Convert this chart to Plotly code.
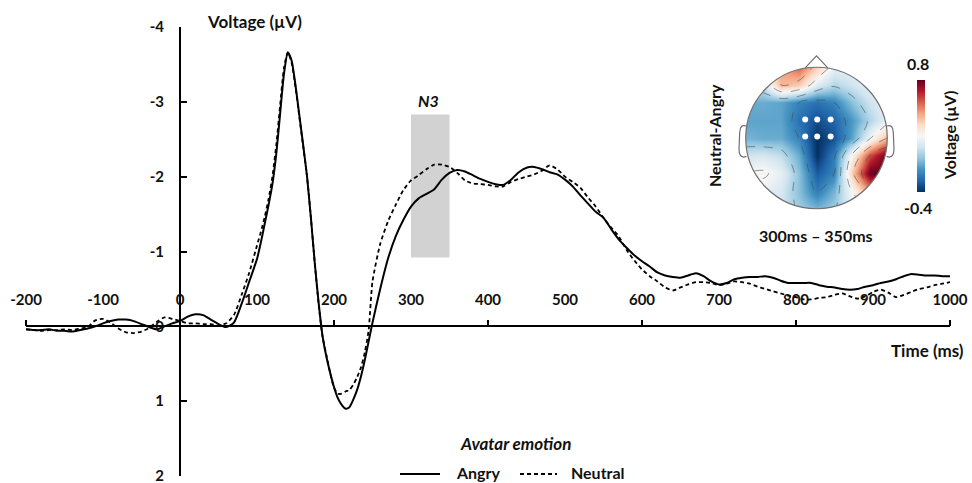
import numpy as np
import plotly.graph_objects as go

# ---------------- ERP waveforms (µV, negative up) ----------------
time_ms = list(range(-200, 100, 10)) + list(range(100, 250, 5)) + list(range(250, 1001, 10))

angry_uv = [
    # -200 .. 90
    0.04, 0.05, 0.05, 0.04, 0.06, 0.06, 0.07, 0.05, 0.03, 0.00,
    -0.04, -0.07, -0.09, -0.09, -0.07, -0.03, 0.01, 0.04, 0.00, -0.04,
    -0.07, -0.13, -0.16, -0.15, -0.09, -0.03, 0.01, -0.05, -0.30, -0.60,
    # 100 .. 245 (5 ms)
    -0.90, -1.12, -1.37, -1.62, -1.90, -2.30, -2.84, -3.37, -3.66, -3.55,
    -3.22, -2.82, -2.42, -2.00, -1.45, -0.85, -0.32, 0.12, 0.40, 0.62,
    0.81, 0.96, 1.05, 1.10, 1.08, 0.98, 0.85, 0.67, 0.45, 0.20,
    # 250 .. 1000
    -0.05, -0.50, -0.90, -1.20, -1.42, -1.60, -1.71, -1.77, -1.83, -1.96,
    -2.05, -2.09, -2.07, -2.02, -1.97, -1.93, -1.90, -1.89, -1.96, -2.06,
    -2.12, -2.13, -2.10, -2.06, -2.03, -1.96, -1.87, -1.75, -1.64, -1.53,
    -1.45, -1.30, -1.16, -1.05, -0.95, -0.87, -0.80, -0.72, -0.68, -0.66,
    -0.65, -0.68, -0.71, -0.67, -0.60, -0.56, -0.58, -0.63, -0.65, -0.66,
    -0.66, -0.67, -0.65, -0.61, -0.58, -0.58, -0.58, -0.58, -0.55, -0.53,
    -0.52, -0.50, -0.49, -0.50, -0.53, -0.55, -0.58, -0.60, -0.63, -0.67,
    -0.70, -0.69, -0.68, -0.68, -0.67, -0.67,
]

neutral_uv = [
    # -200 .. 90
    0.04, 0.05, 0.06, 0.05, 0.05, 0.04, 0.05, 0.03, 0.01, -0.08,
    -0.10, -0.05, 0.03, 0.08, 0.09, 0.07, 0.02, -0.06, -0.12, -0.10,
    -0.07, -0.04, -0.04, -0.03, -0.03, -0.01, -0.04, -0.15, -0.42, -0.72,
    # 100 .. 245 (5 ms)
    -1.08, -1.26, -1.46, -1.70, -2.00, -2.42, -2.95, -3.45, -3.66, -3.52,
    -3.20, -2.80, -2.40, -2.00, -1.45, -0.85, -0.30, 0.13, 0.38, 0.62,
    0.82, 0.90, 0.90, 0.87, 0.85, 0.78, 0.68, 0.55, 0.35, 0.05,
    # 250 .. 1000
    -0.60, -1.10, -1.40, -1.62, -1.82, -1.95, -2.02, -2.10, -2.16, -2.16,
    -2.13, -2.05, -1.95, -1.91, -1.90, -1.89, -1.87, -1.87, -1.93, -1.97,
    -2.00, -2.03, -2.08, -2.15, -2.10, -2.00, -1.93, -1.85, -1.72, -1.60,
    -1.45, -1.32, -1.20, -1.02, -0.88, -0.76, -0.67, -0.60, -0.52, -0.48,
    -0.52, -0.56, -0.59, -0.59, -0.58, -0.55, -0.57, -0.60, -0.59, -0.57,
    -0.53, -0.50, -0.47, -0.44, -0.41, -0.39, -0.36, -0.36, -0.38, -0.39,
    -0.42, -0.44, -0.40, -0.37, -0.40, -0.46, -0.49, -0.45, -0.39, -0.42,
    -0.46, -0.50, -0.52, -0.55, -0.57, -0.59,
]

x_tick_labels = list(range(-200, 1001, 100))
x_major_ticks = list(range(-200, 1001, 200))
y_tick_values = [-4, -3, -2, -1, 0, 1, 2]

# N3 analysis window
n3_window_ms = [300, 350]
n3_window_uv = [-0.92, -2.83]

legend_names = ["Angry", "Neutral"]

# ---------------- Scalp map: Neutral - Angry, 300-350 ms ----------------
topo_x = [-1.0, -0.75, -0.5, -0.25, 0.0, 0.25, 0.5, 0.75, 1.0]
topo_y = [1.0, 0.75, 0.5, 0.25, 0.0, -0.25, -0.5, -0.75, -1.0]
topo_uv = [
    [0.20, 0.30, 0.45, 0.55, 0.35, 0.15, 0.15, 0.20, 0.20],
    [0.00, 0.08, 0.40, 0.35, 0.12, 0.02, 0.08, 0.15, 0.20],
    [-0.10, -0.10, -0.12, -0.20, -0.25, -0.20, -0.05, 0.08, 0.15],
    [-0.12, -0.12, -0.12, -0.25, -0.33, -0.28, -0.15, 0.02, 0.15],
    [-0.08, -0.10, -0.10, -0.20, -0.40, -0.32, -0.12, 0.18, 0.40],
    [0.08, 0.10, 0.05, -0.10, -0.40, -0.22, 0.22, 0.60, 0.80],
    [0.20, 0.22, 0.15, -0.05, -0.30, -0.20, 0.35, 0.80, 0.80],
    [0.15, 0.15, 0.10, -0.05, -0.22, -0.08, 0.20, 0.45, 0.40],
    [0.10, 0.10, 0.08, -0.02, -0.08, -0.02, 0.15, 0.20, 0.20],
]
electrode_x = [-0.16, 0.01, 0.20, -0.16, 0.01, 0.20]
electrode_y = [0.26, 0.26, 0.26, 0.02, 0.02, 0.02]
topo_range = [-0.4, 0.8]

# ---------------- layout geometry ----------------
W, H = 972, 483
ML, MR, MT, MB = 26, 22, 27, 7
PW, PH = W - ML - MR, H - MT - MB


def fx(p):
    return (p - ML) / PW


def fy(p):
    return 1 - (p - MT) / PH


def label(v):
    return str(v).replace("\u2212", "-")


FONT = "Lato"
INK = "#111111"


def bold(size, italic=False):
    d = dict(family=FONT, size=size, color=INK, weight="bold")
    if italic:
        d["style"] = "italic"
    return d


fig = go.Figure()

# waveforms
fig.add_trace(go.Scatter(
    x=time_ms, y=angry_uv, name=legend_names[0], mode="lines",
    line=dict(color="black", width=2, shape="spline", smoothing=0.6),
    hoverinfo="skip", showlegend=False,
))
fig.add_trace(go.Scatter(
    x=time_ms, y=neutral_uv, name=legend_names[1], mode="lines",
    line=dict(color="black", width=1.8, dash="4px,3px", shape="spline", smoothing=0.6),
    hoverinfo="skip", showlegend=False,
))
# carrier for the tick-only overlay axis
fig.add_trace(go.Scatter(x=[None], y=[None], xaxis="x3", yaxis="y",
                         showlegend=False, hoverinfo="skip"))

# scalp map
fig.add_trace(go.Heatmap(
    x=topo_x, y=topo_y, z=topo_uv, xaxis="x2", yaxis="y2",
    zsmooth="best", zmin=topo_range[0], zmax=topo_range[1],
    colorscale="RdBu_r", hoverinfo="skip",
    colorbar=dict(thickness=8, lenmode="pixels", len=112,
                  x=fx(917), xanchor="left", y=fy(135.5), yanchor="middle",
                  showticklabels=False, ticks="", outlinewidth=0, xpad=0, ypad=0),
))
fig.add_trace(go.Contour(
    x=topo_x, y=topo_y, z=topo_uv, xaxis="x2", yaxis="y2",
    contours=dict(coloring="none", start=-0.2, end=0.6, size=0.2),
    line=dict(color="rgba(70,70,70,0.7)", width=0.8, dash="dash", smoothing=1.0),
    showscale=False, hoverinfo="skip", showlegend=False,
))
fig.add_trace(go.Scatter(
    x=electrode_x, y=electrode_y, xaxis="x2", yaxis="y2", mode="markers",
    marker=dict(color="white", size=6), showlegend=False, hoverinfo="skip",
))

# white mask outside the head outline
ang = np.linspace(0, 2 * np.pi, 121)
ring = " ".join(f"L{np.cos(a):.4f},{np.sin(a):.4f}" for a in ang[1:])
mask_path = (f"M-1.3,-1.3 L1.3,-1.3 L1.3,1.3 L-1.3,1.3 Z "
             f"M1,0 {ring} Z")

HEAD = dict(color="#707070", width=1.2)
LEG_Y = 473
shapes = [
    dict(type="rect", xref="x", yref="y", x0=n3_window_ms[0], x1=n3_window_ms[1],
         y0=n3_window_uv[0], y1=n3_window_uv[1], fillcolor="#d2d2d2",
         line=dict(width=0), layer="below"),
    dict(type="path", xref="x2", yref="y2", path=mask_path, fillrule="evenodd",
         fillcolor="white", line=dict(width=0), layer="above"),
    dict(type="circle", xref="x2", yref="y2", x0=-1, y0=-1, x1=1, y1=1,
         line=HEAD, layer="above"),
    dict(type="path", xref="x2", yref="y2",
         path="M-0.16,0.99 L0,1.16 L0.16,0.99", line=HEAD, layer="above"),
    dict(type="path", xref="x2", yref="y2",
         path="M-0.995,0.17 Q-1.08,0.2 -1.085,0.08 L-1.095,-0.16 Q-1.09,-0.3 -0.99,-0.26",
         line=HEAD, layer="above"),
    dict(type="path", xref="x2", yref="y2",
         path="M0.995,0.17 Q1.08,0.2 1.085,0.08 L1.095,-0.16 Q1.09,-0.3 0.99,-0.26",
         line=HEAD, layer="above"),
    # legend keys
    dict(type="line", xref="paper", yref="paper", x0=fx(400), x1=fx(440),
         y0=fy(LEG_Y + 1), y1=fy(LEG_Y + 1), line=dict(color="black", width=2)),
    dict(type="line", xref="paper", yref="paper", x0=fx(520), x1=fx(557),
         y0=fy(LEG_Y + 1), y1=fy(LEG_Y + 1),
         line=dict(color="black", width=1.8, dash="4px,3px")),
]

annotations = [
    dict(text="Voltage (µV)", x=fx(205), y=fy(22), xanchor="left", yanchor="middle",
         font=bold(17)),
    dict(text="Time (ms)", x=fx(966), y=fy(350), xanchor="right", yanchor="middle",
         font=bold(17)),
    dict(text="N3", x=fx(428), y=fy(100), xanchor="center", yanchor="middle",
         font=bold(16, italic=True)),
    dict(text="Avatar emotion", x=fx(515), y=fy(443), xanchor="center", yanchor="middle",
         font=bold(17, italic=True)),
    dict(text=legend_names[0], x=fx(454), y=fy(LEG_Y - 1), xanchor="left",
         yanchor="middle", font=bold(16)),
    dict(text=legend_names[1], x=fx(569), y=fy(LEG_Y - 1), xanchor="left",
         yanchor="middle", font=bold(16)),
    dict(text="Neutral-Angry", x=fx(714), y=fy(136), xanchor="center", yanchor="middle",
         textangle=-90, font=bold(16)),
    dict(text="300ms – 350ms", x=fx(816), y=fy(236), xanchor="center", yanchor="middle",
         font=bold(16)),
    dict(text=label(topo_range[1]), x=fx(918), y=fy(63), xanchor="center",
         yanchor="middle", font=bold(16)),
    dict(text=label(topo_range[0]), x=fx(918), y=fy(207), xanchor="center",
         yanchor="middle", font=bold(16)),
    dict(text="Voltage (µV)", x=fx(949), y=fy(136), xanchor="center", yanchor="middle",
         textangle=-90, font=bold(16)),
]
for a in annotations:
    a.update(xref="paper", yref="paper", showarrow=False)

x_zero_pos = (2 - 0) / 6  # y = 0 within the reversed [2, -4] range
y_zero_pos = (0 - (-200)) / 1200  # x = 0 within [-200, 1000]

fig.update_layout(
    width=W, height=H,
    margin=dict(l=ML, r=MR, t=MT, b=MB, autoexpand=False),
    paper_bgcolor="white", plot_bgcolor="white",
    shapes=shapes, annotations=annotations,
    showlegend=False,
    xaxis=dict(range=[-200, 1000], anchor="free", position=x_zero_pos, side="top",
               showline=True, linecolor="black", linewidth=2,
               tickmode="array", tickvals=x_tick_labels,
               ticktext=[label(v) for v in x_tick_labels],
               ticks="", ticklabelstandoff=14, tickfont=bold(15),
               ticklabeloverflow="allow",
               showgrid=False, zeroline=False),
    xaxis3=dict(range=[-200, 1000], overlaying="x", anchor="free", position=x_zero_pos,
                side="top", tickmode="array", tickvals=x_major_ticks,
                ticks="outside", ticklen=6, tickwidth=2, tickcolor="black",
                showticklabels=False, showline=False, showgrid=False, zeroline=False),
    yaxis=dict(range=[2, -4], anchor="free", position=y_zero_pos, side="left",
               showline=True, linecolor="black", linewidth=2,
               tickmode="array", tickvals=y_tick_values,
               ticktext=[label(v) for v in y_tick_values],
               ticks="inside", ticklen=6, tickwidth=2, tickcolor="black",
               ticklabelstandoff=12, tickfont=bold(15),
               ticklabeloverflow="allow",
               showgrid=False, zeroline=False),
    xaxis2=dict(domain=[fx(724.5), fx(908.5)], range=[-1.3, 1.3], anchor="y2",
                visible=False, showgrid=False, zeroline=False),
    yaxis2=dict(domain=[fy(230), fy(46)], range=[-1.3, 1.3], anchor="x2",
                visible=False, showgrid=False, zeroline=False),
)

fig.write_html("out.html")
